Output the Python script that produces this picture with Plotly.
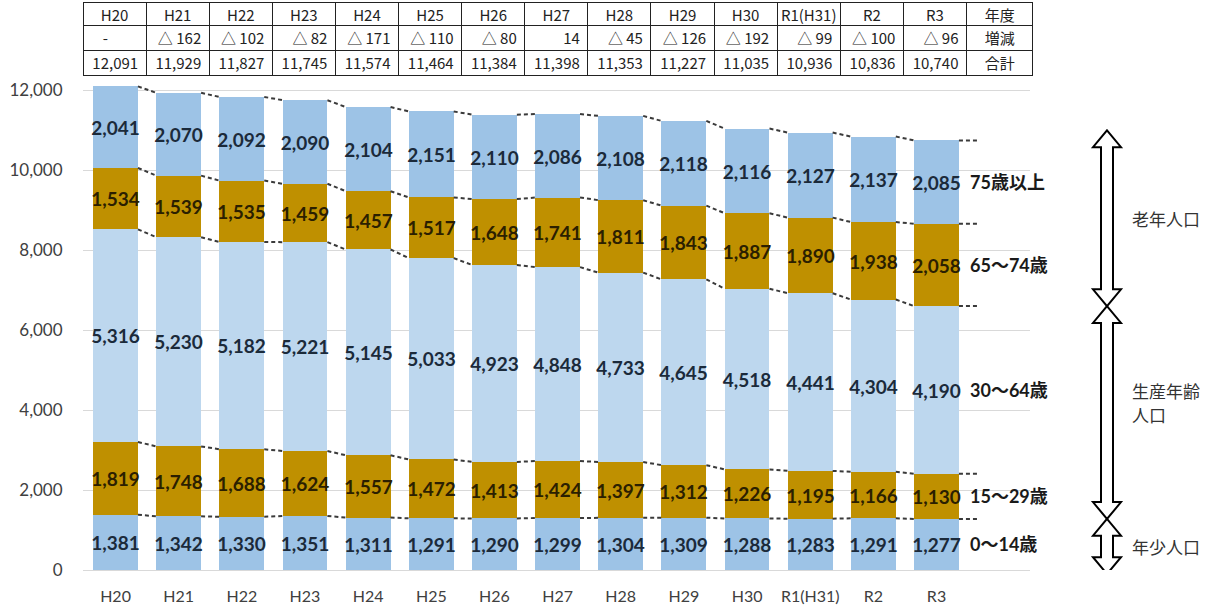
import plotly.graph_objects as go

years = ["H20", "H21", "H22", "H23", "H24", "H25", "H26", "H27", "H28", "H29", "H30", "R1(H31)", "R2", "R3"]
age0_14 = [1381, 1342, 1330, 1351, 1311, 1291, 1290, 1299, 1304, 1309, 1288, 1283, 1291, 1277]
age15_29 = [1819, 1748, 1688, 1624, 1557, 1472, 1413, 1424, 1397, 1312, 1226, 1195, 1166, 1130]
age30_64 = [5316, 5230, 5182, 5221, 5145, 5033, 4923, 4848, 4733, 4645, 4518, 4441, 4304, 4190]
age65_74 = [1534, 1539, 1535, 1459, 1457, 1517, 1648, 1741, 1811, 1843, 1887, 1890, 1938, 2058]
age75 = [2041, 2070, 2092, 2090, 2104, 2151, 2110, 2086, 2108, 2118, 2116, 2127, 2137, 2085]
changes = [None, -162, -102, -82, -171, -110, -80, 14, -45, -126, -192, -99, -100, -96]
totals = [12091, 11929, 11827, 11745, 11574, 11464, 11384, 11398, 11353, 11227, 11035, 10936, 10836, 10740]
series_names = ["0～14歳", "15～29歳", "30～64歳", "65～74歳", "75歳以上"]
groups = [["年少人口"], ["生産年齢", "人口"], ["老年人口"]]
table_labels = ["年度", "増減", "合計"]

W, H = 1219, 609
BLUE = "#9dc3e6"
LBLUE = "#bdd7ee"
GOLD = "#bf9000"
bar_w = 0.71

series = [age0_14, age15_29, age30_64, age65_74, age75]
colors = [BLUE, GOLD, LBLUE, GOLD, BLUE]
txtcol = ["#1b2a3a", "#2b1f00", "#1b2a3a", "#2b1f00", "#1b2a3a"]
xs = list(range(len(years)))

fig = go.Figure()
for s, c, tc, nm in zip(series, colors, txtcol, series_names):
    fig.add_trace(go.Bar(
        x=xs, y=s, name=nm, width=bar_w, marker=dict(color=c, line=dict(width=0)),
        text=[f"{v:,}" for v in s], textposition="inside", insidetextanchor="middle",
        constraintext="none", textangle=0,
        textfont=dict(family="Lato, Noto Sans", size=19, color=tc, weight="bold"),
        showlegend=False, hoverinfo="skip",
    ))

# cumulative boundaries
cums = []
acc = [0] * len(years)
for s in series:
    acc = [a + v for a, v in zip(acc, s)]
    cums.append(acc[:])

lx, ly = [], []
for c in cums:
    for i in range(len(years) - 1):
        lx += [i + bar_w / 2, i + 1 - bar_w / 2, None]
        ly += [c[i], c[i + 1], None]
    last = len(years) - 1
    lx += [last + bar_w / 2, last + bar_w / 2 + 0.3, None]
    ly += [c[last], c[last], None]
fig.add_trace(go.Scatter(x=lx, y=ly, mode="lines", line=dict(color="#3a3a3a", width=2, dash="4px,3px"),
                         showlegend=False, hoverinfo="skip"))

# right labels
last = len(years) - 1
base = 0
for s, nm in zip(series, series_names):
    mid = base + s[last] / 2
    base += s[last]
    fig.add_annotation(x=last + bar_w / 2 + 0.15, y=mid, xref="x", yref="y", text=nm, showarrow=False,
                       xanchor="left", yanchor="middle",
                       font=dict(family="Lato, Noto Sans CJK JP", size=18, color="#1a1a1a", weight="bold"))

# arrows
xc = 1107 / W
hw = 6 / W
hh = 14 / W
hl = 420


def arrow(ytop, ybot):
    pts = [(xc, ytop), (xc + hh, ytop - hl), (xc + hw, ytop - hl), (xc + hw, ybot + hl), (xc + hh, ybot + hl),
           (xc, ybot), (xc - hh, ybot + hl), (xc - hw, ybot + hl), (xc - hw, ytop - hl), (xc - hh, ytop - hl)]
    return "M " + " L ".join(f"{x},{y}" for x, y in pts) + " Z"


r3 = [c[last] for c in cums]
spans = [(r3[0], -100), (r3[2], r3[0]), (r3[4] + 250, r3[2])]
for (yt, yb) in spans:
    fig.add_shape(type="path", path=arrow(yt, yb), xref="paper", yref="y",
                  fillcolor="white", line=dict(color="black", width=2))
line_step = 620
for g, (yt, yb) in zip(groups, spans):
    mid = (yt + yb) / 2
    n = len(g)
    for j, t in enumerate(g):
        fig.add_annotation(x=1130 / W, y=mid + (n - 1) / 2 * line_step - j * line_step + (250 if n > 1 else 0),
                           xref="paper", yref="y", text=t, showarrow=False,
                           xanchor="left", yanchor="middle",
                           font=dict(family="Noto Sans CJK JP", size=17, color="#333333"))

# table
chg_txt = ["-" + "\u00a0" * 9 if v is None else ("△ " + str(-v) if v < 0 else str(v)) for v in changes]
tot_txt = [f"{v:,}" for v in totals]
header = years + [table_labels[0]]
col_vals = [[a, b] for a, b in zip(chg_txt + [table_labels[1]], tot_txt + [table_labels[2]])]
aligns = ["right"] * len(years) + ["center"]
fig.add_trace(go.Table(
    domain=dict(x=[83 / W, 1033 / W], y=[1 - 78 / H, 1 - 2 / H]),
    columnwidth=[62.6] * len(years) + [66],
    header=dict(values=header, height=23, align="center", line=dict(color="#222", width=1),
                fill=dict(color="white"), font=dict(family="Noto Sans CJK JP", size=15, color="#222")),
    cells=dict(values=col_vals, height=25, align=aligns, line=dict(color="#222", width=1),
               fill=dict(color="white"), font=dict(family="Noto Sans CJK JP", size=15, color="#222")),
))

fig.update_layout(
    width=W, height=H, margin=dict(l=0, r=0, t=0, b=0),
    paper_bgcolor="white", plot_bgcolor="white", barmode="stack", bargap=0,
    xaxis=dict(domain=[83 / W, 1030 / W], range=[-0.515, 14.48], tickmode="array", tickvals=xs, ticktext=years,
               showgrid=False, zeroline=False, showline=True, linecolor="#d9d9d9", linewidth=1,
               ticks="outside", ticklen=12, tickcolor="rgba(0,0,0,0)", automargin=False,
               tickfont=dict(family="Lato, Noto Sans", size=16, color="#404040")),
    yaxis=dict(domain=[1 - 570 / H, 1 - 78 / H], range=[0, 12300], tickmode="array",
               tickvals=[0, 2000, 4000, 6000, 8000, 10000, 12000],
               ticktext=["0", "2,000", "4,000", "6,000", "8,000", "10,000", "12,000"],
               showgrid=True, gridcolor="#d9d9d9", gridwidth=1, zeroline=False,
               ticks="outside", ticklen=16, tickcolor="rgba(0,0,0,0)", automargin=False,
               tickfont=dict(family="Lato, Noto Sans", size=17, color="#404040")),
)

fig.write_html("out.html")
